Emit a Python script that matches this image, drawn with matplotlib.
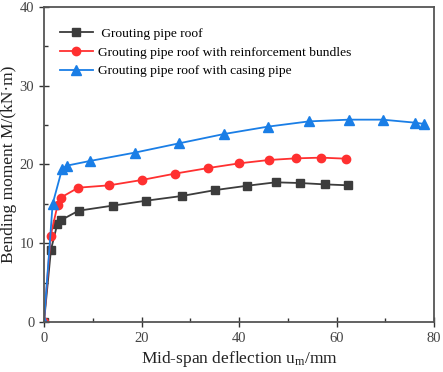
import matplotlib
matplotlib.use("Agg")
import matplotlib.pyplot as plt
from matplotlib.ticker import MultipleLocator

plt.rcParams['font.family'] = ['Liberation Serif', 'DejaVu Serif']
plt.rcParams['mathtext.fontset'] = 'custom'
plt.rcParams['mathtext.rm'] = 'Liberation Serif'
plt.rcParams['mathtext.it'] = 'Liberation Serif:italic'

# Data
x_plain = [0, 1.43, 2.73, 3.55, 7.1, 14.06, 20.96, 28.2, 35.15, 41.7, 47.5, 52.56, 57.54, 62.39]
y_plain = [0, 9.18, 12.43, 12.94, 14.12, 14.76, 15.39, 15.98, 16.74, 17.29, 17.72, 17.63, 17.46, 17.34]

x_bundle = [0, 1.37, 2.8, 3.41, 7.03, 13.38, 20.0, 26.83, 33.65, 40.07, 46.08, 51.6, 56.86, 61.91]
y_bundle = [0, 10.95, 14.88, 15.77, 17.04, 17.34, 18.01, 18.82, 19.53, 20.13, 20.55, 20.76, 20.85, 20.72]

x_casing = [0, 1.77, 3.69, 4.64, 9.35, 18.57, 27.65, 36.93, 45.87, 54.33, 62.53, 69.42, 76.04, 78.02]
y_casing = [0, 14.97, 19.37, 19.83, 20.42, 21.48, 22.66, 23.85, 24.78, 25.45, 25.67, 25.67, 25.29, 25.12]

labels = [' Grouting pipe roof',
          'Grouting pipe roof with reinforcement bundles',
          'Grouting pipe roof with casing pipe']

fig = plt.figure(figsize=(4.43, 3.72), dpi=100)
ax = fig.add_axes([0.0993, 0.1344, 0.8807, 0.8476])

ax.plot(x_plain, y_plain, color='#3c3c3c', marker='s', markersize=5.3, lw=1.3, label=labels[0])
ax.plot(x_bundle, y_bundle, color='#ff3030', marker='o', markersize=6, lw=1.3, label=labels[1])
ax.plot(x_casing, y_casing, color='#1a7ee6', marker='^', markersize=6.5, lw=1.3, label=labels[2])

ax.set_xlim(0, 80)
ax.set_ylim(0, 40)
ax.xaxis.set_major_locator(MultipleLocator(20))
ax.xaxis.set_minor_locator(MultipleLocator(10))
ax.yaxis.set_major_locator(MultipleLocator(10))
ax.yaxis.set_minor_locator(MultipleLocator(5))
ax.tick_params(which='major', direction='inout', length=7, width=1.0, colors='#333333',
               labelsize=10.5, labelcolor='#444444')
ax.tick_params(which='minor', direction='in', length=3, width=1.0, colors='#333333')
for s in ax.spines.values():
    s.set_color('#555555')
    s.set_linewidth(1.3)

ax.set_xlabel('Mid-span deflection u$_\\mathrm{m}$/mm', fontsize=12.5, color='#222222', labelpad=3)
ax.set_ylabel('Bending moment M/(kN·m)', fontsize=12.5, color='#222222', labelpad=2)

leg = ax.legend(loc='upper left', bbox_to_anchor=(0.041, 0.935), frameon=False, fontsize=9.7,
                handlelength=2.45, handletextpad=0.4, labelspacing=0.48,
                borderaxespad=0, borderpad=0)

fig.savefig('out.png', dpi=100)
